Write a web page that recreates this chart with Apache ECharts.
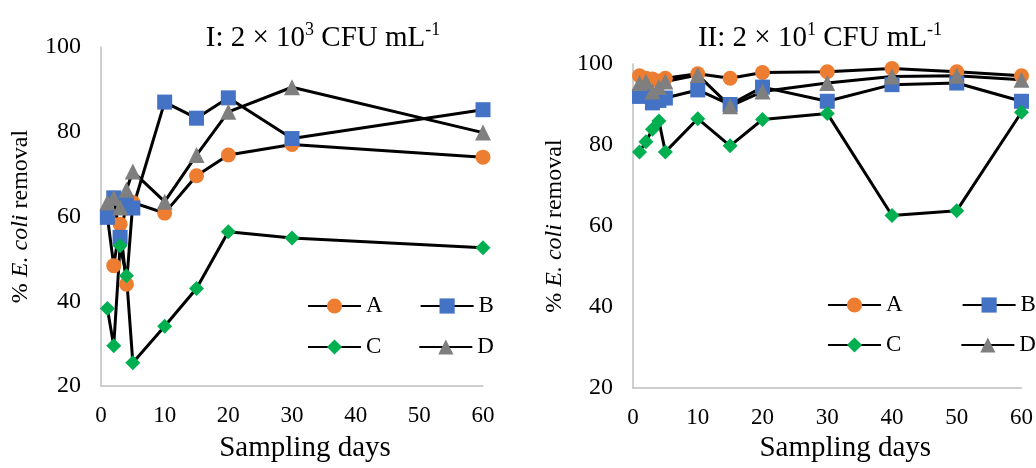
<!DOCTYPE html>
<html>
<head>
<meta charset="utf-8">
<script src="https://cdn.jsdelivr.net/npm/echarts@6/dist/echarts.min.js"></script>
<style>
html,body{margin:0;padding:0;background:#fff;}
#c{width:1036px;height:468px;}
</style>
</head>
<body>
<div id="c"></div>
<script>
// ---- Data ----
const daysI = [1, 2, 3, 4, 5, 10, 15, 20, 30, 60];
const I_A = [60, 48.4, 58.2, 44, 63.3, 60.8, 69.6, 74.5, 77, 74];
const I_B = [59.8, 64.4, 55.1, 63, 62, 87, 83.2, 88, 78.4, 85.2];
const I_C = [38.3, 29.5, 53.1, 46, 25.5, 34.1, 43, 56.4, 54.9, 52.6];
const I_D = [63.3, 64.4, 62.1, 66.3, 70.6, 63.5, 74.5, 84.7, 90.5, 79.8];

const daysII = [1, 2, 3, 4, 5, 10, 15, 20, 30, 40, 50, 60];
const II_A = [97.1, 96.5, 96.3, 95.8, 96.5, 97.6, 96.5, 97.9, 98.1, 98.9, 98.1, 97.1];
const II_B = [92.0, 92.5, 90.4, 91.0, 91.6, 93.6, 90.0, 94.3, 90.8, 94.9, 95.3, 90.8];
const II_C = [78.3, 80.8, 83.9, 85.9, 78.3, 86.5, 79.8, 86.3, 87.8, 62.6, 63.8, 88.1];
const II_D = [95.3, 95.7, 93.2, 94.3, 95.7, 97.3, 89.6, 93.2, 95.3, 96.9, 97.1, 96.1];

const seriesNames = ['A', 'B', 'C', 'D'];
const titleI = '{m|I: 2 × 10}{s|3}{m| CFU mL}{s|-1}';
const titleII = '{m|II: 2 × 10}{s|1}{m| CFU mL}{s|-1}';
const yTitle = '{n|% }{i|E. coli}{n| removal}';
const xTitle = 'Sampling days';

// ---- Styles ----
const FONT = 'Liberation Serif';
const colors = {A: '#ED7D31', B: '#4472C4', C: '#00B050', D: '#7F7F7F'};
const symbols = {A: 'circle', B: 'rect', C: 'diamond', D: 'triangle'};
const sizes = {A: 15, B: 15, C: 15, D: 16};

function zip(xs, ys) { return xs.map((x, i) => [x, ys[i]]); }

function mkSeries(name, xs, ys, idx) {
  return {
    name: name, type: 'line', xAxisIndex: idx, yAxisIndex: idx,
    data: zip(xs, ys), symbol: symbols[name], symbolSize: sizes[name],
    itemStyle: {color: colors[name]},
    lineStyle: {color: '#000', width: 3},
    clip: false, animation: false
  };
}

const axisLine = {show: true, lineStyle: {color: '#BFBFBF', width: 1.5}};
function xAx(idx, gap, pad) {
  return {
    type: 'value', gridIndex: idx, min: 0, max: 60, interval: 10,
    axisLine: axisLine, axisTick: {show: false}, splitLine: {show: false},
    axisLabel: {fontFamily: FONT, fontSize: 23, color: '#000', margin: 18},
    name: xTitle, nameLocation: 'middle', nameGap: gap,
    nameTextStyle: {fontFamily: FONT, fontSize: 29, color: '#000', padding: [0, 0, 0, pad]}
  };
}
function yAx(idx, gap) {
  return {
    type: 'value', gridIndex: idx, min: 20, max: 100, interval: 20,
    axisLine: axisLine, axisTick: {show: false}, splitLine: {show: false},
    axisLabel: {fontFamily: FONT, fontSize: 24, color: '#000', margin: 20},
    name: yTitle, nameLocation: 'middle', nameGap: gap, nameRotate: 90,
    nameTextStyle: {
      fontFamily: FONT, fontSize: 24, color: '#000',
      rich: {
        n: {fontFamily: FONT, fontSize: 24, color: '#000'},
        i: {fontFamily: FONT, fontSize: 24, color: '#000', fontStyle: 'italic'}
      }
    }
  };
}
function legend(left, top, data, gap) {
  return {
    left: left, top: top, width: 400, padding: 0, data: data, orient: 'horizontal',
    itemWidth: 53, itemHeight: 19, itemGap: gap, selectedMode: false,
    textStyle: {fontFamily: FONT, fontSize: 23, color: '#000'}
  };
}
const titleRich = {
  m: {fontFamily: FONT, fontSize: 29, color: '#000', lineHeight: 34},
  s: {fontFamily: FONT, fontSize: 18, color: '#000', lineHeight: 19, verticalAlign: 'top'}
};

const option = {
  backgroundColor: '#fff',
  animation: false,
  grid: [
    {left: 101, top: 47, width: 382, height: 344},
    {left: 633, top: 64, width: 390, height: 327}
  ],
  xAxis: [xAx(0, 48, 26), xAx(1, 41, 36)],
  yAxis: [yAx(0, 68), yAx(1, 66)],
  legend: [
    legend(307, 294.5, ['A', 'B'], 37),
    legend(307, 335.5, ['C', 'D'], 37),
    legend(827, 293.5, ['A', 'B'], 59),
    legend(827, 333.5, ['C', 'D'], 59)
  ],
  graphic: [
    {type: 'text', x: 323, y: 38, style: {text: titleI, rich: titleRich, align: 'center', verticalAlign: 'middle'}},
    {type: 'text', x: 820, y: 38, style: {text: titleII, rich: titleRich, align: 'center', verticalAlign: 'middle'}}
  ],
  series: [
    mkSeries('A', daysI, I_A, 0),
    mkSeries('B', daysI, I_B, 0),
    mkSeries('C', daysI, I_C, 0),
    mkSeries('D', daysI, I_D, 0),
    mkSeries('A', daysII, II_A, 1),
    mkSeries('B', daysII, II_B, 1),
    mkSeries('C', daysII, II_C, 1),
    mkSeries('D', daysII, II_D, 1)
  ]
};

const chart = echarts.init(document.getElementById('c'), null, {renderer: 'canvas'});
chart.setOption(option);
</script>
</body>
</html>
